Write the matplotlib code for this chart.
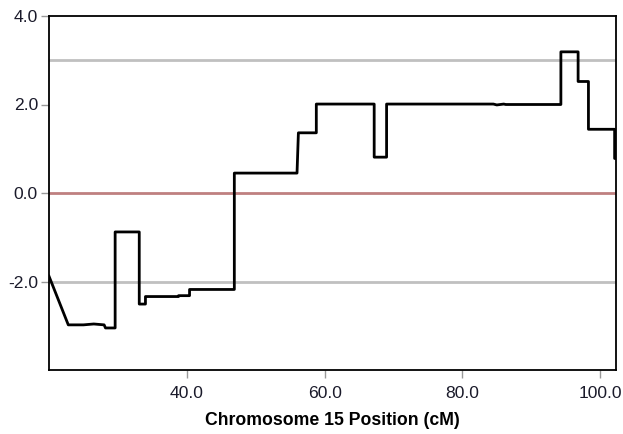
import matplotlib
matplotlib.use('Agg')
import matplotlib.pyplot as plt

plt.rcParams['font.family'] = ['Liberation Sans', 'DejaVu Sans']

# LOD profile vertices (cM position, score)
pos = [20.0, 22.8, 25.0, 26.5, 28.0, 28.2, 29.6, 29.6, 33.1, 33.1, 34.0, 34.0,
       38.8, 38.8, 40.4, 40.4, 46.9, 46.9, 56.0, 56.2, 58.8, 58.8, 67.2, 67.2,
       69.0, 69.0, 84.5, 85.0, 86.0, 86.3, 94.3, 94.3, 96.8, 96.8, 98.3, 98.3,
       102.1, 102.1, 102.3]
lod = [-1.88, -2.98, -2.98, -2.96, -2.98, -3.05, -3.05, -0.88, -0.88, -2.51, -2.51, -2.34,
       -2.34, -2.32, -2.32, -2.18, -2.18, 0.45, 0.45, 1.36, 1.36, 2.01, 2.01, 0.81,
       0.81, 2.01, 2.01, 1.99, 2.01, 2.0, 2.0, 3.19, 3.19, 2.52, 2.52, 1.44,
       1.44, 0.78, 0.78]

ref_lines = [3.0, -2.0]
zero_line = 0.0

fig = plt.figure(figsize=(6.23, 4.34), dpi=100)
ax = fig.add_axes([49 / 623, 64 / 434, 567 / 623, 354 / 434])

for r in ref_lines:
    ax.axhline(r, color='#c0c0c0', lw=2, zorder=1)
ax.axhline(zero_line, color='#bf8080', lw=2, zorder=1)
ax.plot(pos, lod, color='black', lw=2, zorder=3)

ax.set_xlim(20, 102.3)
ax.set_ylim(-4, 4)
ax.set_xticks([40, 60, 80, 100])
ax.set_xticklabels(['40.0', '60.0', '80.0', '100.0'])
ax.set_yticks([-2, 0, 2, 4])
ax.set_yticklabels(['-2.0', '0.0', '2.0', '4.0'])
ax.tick_params(direction='out', length=6, width=1, color='#999999',
               labelsize=12.6, labelcolor='#1a1a2a')
ax.tick_params(axis='x', pad=5.5)
ax.tick_params(axis='y', pad=2)
for s in ax.spines.values():
    s.set_linewidth(1.3)
    s.set_color('black')

ax.set_xlabel('Chromosome 15 Position (cM)', fontsize=12.7, fontweight='bold',
              labelpad=8)

fig.savefig('out.png', dpi=100)
